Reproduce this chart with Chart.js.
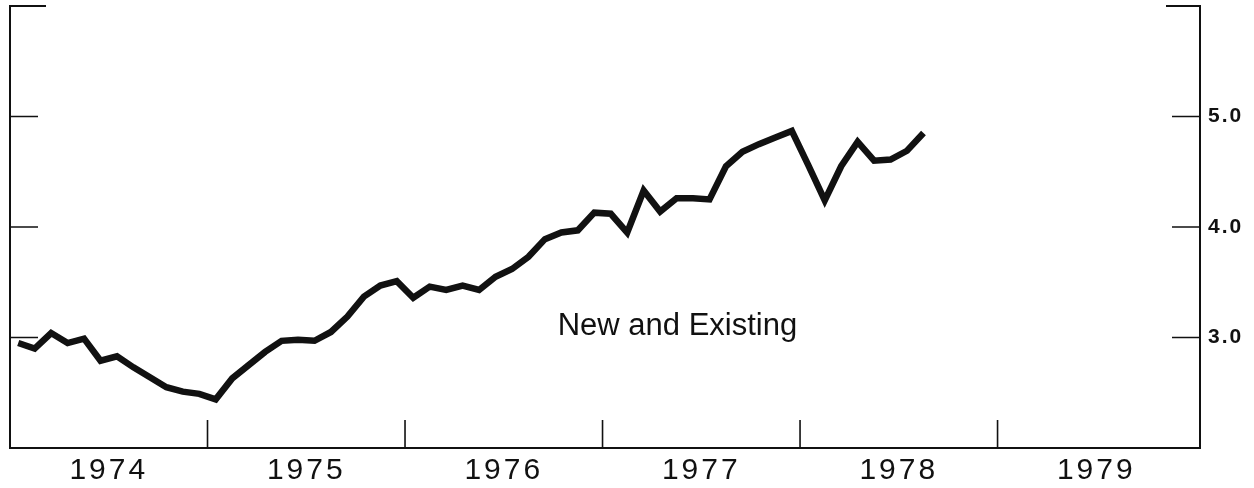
<!DOCTYPE html>
<html><head><meta charset="utf-8">
<script src="https://cdn.jsdelivr.net/npm/chart.js@4.4.1/dist/chart.umd.min.js"></script>
<style>html,body{margin:0;padding:0;background:#fff;} canvas{display:block;}</style>
</head><body>
<canvas id="c" width="1254" height="488"></canvas>
<script>
// ---- data ----
const startYear = 1974;
const yearLabels = ['1974', '1975', '1976', '1977', '1978', '1979'];
const values = [
  2.95, 2.90, 3.04, 2.95, 2.99, 2.79, 2.83, 2.73, 2.64, 2.55, 2.51, 2.49,
  2.44, 2.63, 2.75, 2.87, 2.97, 2.98, 2.97, 3.05, 3.19, 3.37, 3.47, 3.51,
  3.36, 3.46, 3.43, 3.47, 3.43, 3.55, 3.62, 3.73, 3.89, 3.95, 3.97, 4.13,
  4.12, 3.95, 4.33, 4.14, 4.26, 4.26, 4.25, 4.55, 4.68, 4.75, 4.81, 4.87,
  4.56, 4.24, 4.55, 4.77, 4.60, 4.61, 4.69, 4.85
];
const months = values.map((_, i) => (startYear + Math.floor(i / 12)) + '-' + String(i % 12 + 1).padStart(2, '0'));
const yTickValues = [3, 4, 5];
const yTickLabels = ['3.0', '4.0', '5.0'];
const seriesLabel = 'New and Existing';
const labelAnchor = { month: 40.55, value: 3.02 };

// ---- chart ----
const points = values.map((v, i) => ({ x: i + 0.5, y: v }));
const yearCenters = yearLabels.map((_, k) => k * 12 + 6);
const FONT = '"Liberation Sans", Arial, Helvetica, sans-serif';

const framePlugin = {
  id: 'frame',
  beforeDraw(chart) {
    chart.ctx.letterSpacing = '3px';
    const ys = chart.scales.y;
    if (ys && !ys._lsPatched) {
      const orig = ys.drawLabels.bind(ys);
      ys.drawLabels = function (ca) {
        const c = this.ctx; const prev = c.letterSpacing;
        c.letterSpacing = '2px'; orig(ca); c.letterSpacing = prev;
      };
      ys._lsPatched = true;
    }
  },
  afterDatasetsDraw(chart) {
    const { ctx, chartArea: a, scales: { x, y } } = chart;
    ctx.save();
    ctx.letterSpacing = '0px';
    ctx.strokeStyle = '#111';
    ctx.lineJoin = 'miter';
    ctx.lineWidth = 2;
    ctx.beginPath();
    ctx.moveTo(a.left + 36, a.top);
    ctx.lineTo(a.left, a.top);
    ctx.lineTo(a.left, a.bottom);
    ctx.lineTo(a.right, a.bottom);
    ctx.lineTo(a.right, a.top);
    ctx.lineTo(a.right - 34, a.top);
    ctx.stroke();
    ctx.lineWidth = 1.6;
    ctx.beginPath();
    yTickValues.forEach(v => {
      const py = y.getPixelForValue(v);
      ctx.moveTo(a.left, py); ctx.lineTo(a.left + 28, py);
      ctx.moveTo(a.right, py); ctx.lineTo(a.right - 28, py);
    });
    for (let k = 1; k < yearLabels.length; k++) {
      const px = x.getPixelForValue(k * 12);
      ctx.moveTo(px, a.bottom); ctx.lineTo(px, a.bottom - 28);
    }
    ctx.stroke();
    ctx.font = '31px ' + FONT;
    ctx.fillStyle = '#111';
    ctx.textAlign = 'center';
    ctx.textBaseline = 'alphabetic';
    ctx.fillText(seriesLabel, x.getPixelForValue(labelAnchor.month), y.getPixelForValue(labelAnchor.value));
    ctx.restore();
  }
};

new Chart(document.getElementById('c'), {
  type: 'line',
  data: {
    datasets: [{
      label: seriesLabel,
      data: points,
      borderColor: '#111',
      borderWidth: 6.5,
      pointRadius: 0,
      tension: 0,
      fill: false
    }]
  },
  options: {
    responsive: false,
    animation: false,
    devicePixelRatio: 1,
    layout: { padding: { left: 10, top: 6, right: 0, bottom: 0 } },
    plugins: { legend: { display: false }, tooltip: { enabled: false } },
    scales: {
      x: {
        type: 'linear',
        min: 0,
        max: 72.3,
        grid: { display: false, drawTicks: false },
        border: { display: false },
        afterBuildTicks: s => { s.ticks = yearCenters.map(v => ({ value: v })); },
        afterFit: s => { s.height = 40; s.paddingLeft = 0; s.paddingRight = 0; },
        ticks: {
          autoSkip: false,
          maxRotation: 0,
          padding: 5,
          color: '#111',
          font: { family: FONT, size: 30 },
          callback: v => yearLabels[Math.round((v - 6) / 12)] || ''
        }
      },
      y: {
        type: 'linear',
        position: 'right',
        min: 2,
        max: 6,
        grid: { display: false, drawTicks: false },
        border: { display: false },
        afterBuildTicks: s => { s.ticks = yTickValues.map(v => ({ value: v })); },
        afterFit: s => { s.width = 54; s.paddingTop = 0; s.paddingBottom = 0; },
        ticks: {
          padding: 8,
          color: '#111',
          font: { family: FONT, size: 21, weight: 'bold' },
          callback: v => yTickLabels[yTickValues.indexOf(v)] || ''
        }
      }
    }
  },
  plugins: [framePlugin]
});
</script>
</body></html>
